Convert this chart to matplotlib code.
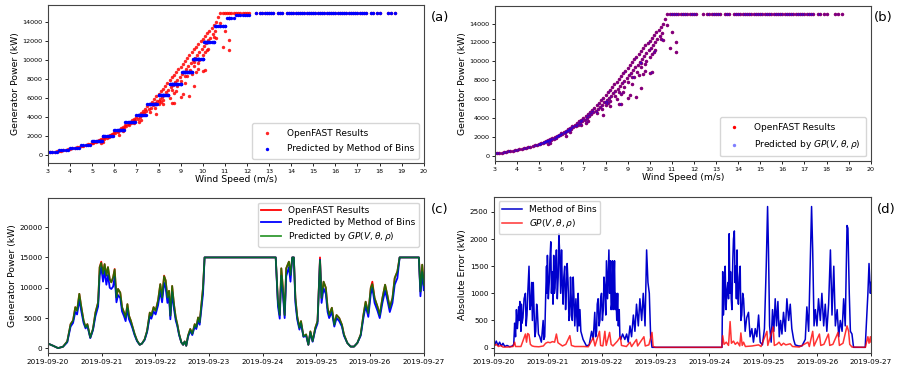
import numpy as np
import pandas as pd
import matplotlib
matplotlib.use("Agg")
import matplotlib.pyplot as plt
import matplotlib.dates as mdates

# ---- scatter data (wind speed m/s, OpenFAST power kW) ----
wind_main = [3.0, 3.1, 3.2, 3.3, 3.4, 3.5, 3.6, 3.7, 3.8, 3.9, 4.0, 4.1, 4.2, 4.3, 4.4, 4.5, 4.6, 4.7,
             4.8, 4.9, 5.0, 5.1, 5.2, 5.3, 5.4, 5.5, 5.6, 5.7, 5.8, 5.9, 6.0, 6.1, 6.2, 6.3, 6.4, 6.5,
             6.6, 6.7, 6.8, 6.9, 7.0, 7.1, 7.2, 7.3, 7.4, 7.5, 7.6, 7.7, 7.8, 7.9, 8.0, 8.1, 8.2, 8.3,
             8.4, 8.5, 8.6, 8.7, 8.8, 8.9, 9.0, 9.1, 9.2, 9.3, 9.4, 9.5, 9.6, 9.7, 9.8, 9.9, 10.0,
             10.1, 10.2, 10.3, 10.4, 10.5, 10.6, 10.7]
power_main = [250, 270, 300, 330, 370, 400, 440, 480, 530, 570, 620, 670, 720, 780, 840, 900, 960, 1030,
              1100, 1170, 1250, 1340, 1430, 1530, 1630, 1740, 1850, 1970, 2090, 2220, 2350, 2490, 2640,
              2790, 2950, 3110, 3280, 3450, 3630, 3820, 4010, 4210, 4420, 4630, 4850, 5100, 5350, 5600,
              5850, 6150, 6450, 6700, 6950, 7250, 7550, 7850, 8150, 8450, 8750, 9000, 9300, 9600, 9900,
              10200, 10500, 10800, 11100, 11400, 11700, 11950, 12200, 12500, 12800, 13100, 13350, 13650,
              14000, 14500]
wind_band = [5.05, 5.15, 5.25, 5.35, 5.45, 5.55, 5.65, 5.75, 5.85, 5.95, 6.05, 6.15, 6.25, 6.35, 6.45,
             6.55, 6.65, 6.75, 6.85, 6.95, 7.05, 7.15, 7.25, 7.35, 7.45, 7.55, 7.65, 7.75, 7.85, 7.95,
             8.05, 8.15, 8.25, 8.35, 8.45, 8.55, 8.65, 8.75, 8.85, 8.95, 9.05, 9.15, 9.25, 9.35, 9.45,
             9.55, 9.65, 9.75, 9.85, 9.95, 10.05, 10.15, 10.25, 10.35, 10.45, 10.55,
             7.62, 7.82, 8.02, 8.22, 8.42, 8.62, 8.82, 9.02, 9.22, 9.42, 9.62, 9.82, 10.02, 10.22]
power_band = [1230, 1320, 1410, 1500, 1600, 1700, 1800, 1920, 2040, 2170, 2300, 2420, 2560, 2700, 2850,
              3000, 3150, 3300, 3480, 3650, 3820, 4000, 4200, 4380, 4580, 4780, 4980, 5200, 5420, 5650,
              5880, 6100, 6350, 6600, 6850, 7100, 7350, 7650, 7900, 8200, 8500, 8750, 9050, 9350, 9650,
              9950, 10250, 10550, 10850, 11150, 11450, 11750, 12050, 12350, 12700, 13050,
              4500, 4950, 5400, 5800, 6300, 6800, 7300, 7800, 8300, 8900, 9400, 10000, 10500, 11200]
wind_out = [5.4, 5.5, 6.2, 6.4, 6.9, 7.1, 7.2, 7.9, 8.0, 8.1, 8.2, 8.5, 8.6, 8.7, 8.7, 8.8, 9.0, 9.1,
            9.2, 9.4, 9.6, 9.3, 9.5, 9.7, 9.8, 10.1, 10.0, 9.6, 9.8, 10.1, 10.2, 10.5, 10.6, 10.9, 11.0,
            11.2, 11.2, 10.8]
power_out = [1200, 1300, 2100, 2500, 3300, 3500, 3700, 4300, 5700, 5600, 5300, 6000, 5500, 5500, 6500,
             6700, 6100, 6400, 7600, 6200, 7200, 8300, 8500, 8700, 9000, 8900, 8800, 9800, 9700, 10800,
             11000, 12400, 12300, 11400, 13100, 11000, 12100, 13900]
wind_rated = [10.8, 10.9, 11.0, 11.1, 11.2, 11.3, 11.4, 11.5, 11.6, 11.7, 11.8, 11.9, 12.0, 12.1,
              12.4, 12.6, 12.7, 12.8, 12.9, 13.0, 13.1, 13.2, 13.4, 13.5, 13.6, 13.8, 13.9, 14.0, 14.1,
              14.2, 14.3, 14.4, 14.5, 14.6, 14.7, 14.8, 14.9, 15.0, 15.1, 15.2, 15.3, 15.4, 15.5, 15.6,
              15.7, 15.8, 15.9, 16.0, 16.1, 16.2, 16.3, 16.4, 16.5, 16.6, 16.7, 16.8, 16.9, 17.0, 17.1,
              17.2, 17.3, 17.4, 17.6, 17.7, 17.9, 18.0, 18.4, 18.5, 18.7]
power_rated = [15000] * len(wind_rated)

# method of bins table (bin edges m/s, mean power kW)
bin_edges = [3.0, 3.5, 4.0, 4.5, 5.0, 5.5, 6.0, 6.5, 7.0, 7.5, 8.0, 8.5, 9.03, 9.53, 10.03, 10.53,
             11.08, 11.5, 12.2, 19.0]
bin_power = [280, 480, 730, 1000, 1400, 2000, 2600, 3400, 4200, 5350, 6250, 7450, 8700, 10050, 11850,
             13600, 14450, 14750, 15000]

# ---- time series (hours after 2019-09-20 00:00) ----
c_hours = [0, 2.2, 4.5, 6.7, 8.6, 10.1, 11.2, 12.2, 13, 14, 14.9, 15.9, 16.8, 17.6, 18.9, 20.1, 21.2,
           22.4, 23.1, 23.8, 24.6, 25.3, 26.1, 26.8, 27.6, 28.3, 29.1, 29.8, 30.6, 31.3, 32.3, 33.1, 34,
           34.7, 35.5, 36.2, 37, 37.7, 38.7, 39.8, 41, 42, 43.2, 44.3, 45.5, 46.2, 47.2, 48.1, 49.2,
           50.2, 51, 51.9, 52.6, 53.4, 54.1, 54.7, 55.5, 56.3, 57.1, 57.8, 58.6, 59.6, 60.4, 61.1, 61.8,
           62.6, 63.6, 64.5, 65.6, 66.3, 67.1, 67.8, 68.6, 69.3, 70, 101.8, 102.8, 103.6, 104.3, 105,
           105.8, 106.5, 107.7, 108.4, 109.2, 109.9, 110.6, 111.4, 112.4, 113.1, 114.2, 115.4, 116.4,
           117.3, 118.3, 119.5, 120.5, 121.6, 122.3, 123.2, 124.2, 125, 125.7, 126.9, 128, 129, 130.2,
           131.4, 132.3, 133.8, 135.3, 136.8, 138.3, 139.8, 141, 142, 143.2, 144.3, 145, 146, 147.3,
           148.3, 149.5, 150.7, 151.7, 152.8, 154, 155, 156.2, 157.2, 165.8, 166.5, 167.3, 168]
c_openfast = [800, 450, 50, 280, 1150, 4000, 4600, 6800, 6200, 9000, 6800, 4600, 3500, 4000, 1800, 3200,
              5900, 7600, 13400, 14300, 12300, 13900, 12000, 13400, 11400, 10900, 11700, 13100, 8400, 9800,
              9200, 6800, 5900, 5100, 7300, 5400, 4600, 3700, 2400, 1300, 600, 800, 1500, 2900, 5900, 5400,
              6800, 6200, 7900, 10600, 8400, 12000, 11200, 8400, 9500, 5400, 10300, 7300, 5100, 4000, 2400,
              1000, 600, 1150, 440, 2100, 3200, 2400, 4000, 3500, 5100, 4300, 7300, 10000, 15000, 15000,
              7700, 5500, 13200, 10000, 5500, 13200, 14300, 12100, 15000, 15000, 8300, 5300, 3400, 4500,
              2000, 2300, 600, 2800, 1200, 3400, 4500, 15000, 8300, 11000, 10000, 6700, 5500, 6700, 3900,
              5500, 5000, 3900, 2300, 900, 300, 300, 900, 2300, 5500, 7700, 5800, 10000, 11000, 8300, 6900,
              5500, 8300, 10500, 8800, 6700, 8300, 11600, 12700, 15000, 15000, 9400, 13800, 10500]
c_bins = [800, 450, 50, 280, 1000, 3600, 4200, 6000, 5600, 8000, 6100, 4200, 3300, 3700, 1700, 3000,
          5300, 6900, 12000, 13400, 11000, 12800, 10500, 12100, 10000, 9800, 10200, 11800, 7600, 8800,
          8300, 6100, 5300, 4500, 6600, 4800, 4100, 3400, 2200, 1200, 600, 800, 1400, 2700, 5300, 4900,
          6100, 5600, 7100, 9500, 7600, 10800, 10000, 7500, 8500, 4800, 9300, 6600, 4600, 3700, 2200,
          1000, 600, 1100, 440, 1900, 2900, 2200, 3600, 3200, 4600, 3900, 6600, 9000, 15000, 15000,
          7000, 4900, 12000, 9000, 5000, 11900, 13400, 11000, 15000, 15000, 7500, 4800, 3100, 4100,
          1900, 2100, 600, 2600, 1100, 3100, 4100, 14600, 7500, 9900, 9000, 6000, 5000, 6000, 3600,
          5000, 4500, 3600, 2100, 900, 300, 300, 900, 2100, 5000, 7000, 5200, 9000, 10000, 7500, 6200,
          5000, 7500, 9500, 8000, 6000, 7500, 10500, 11600, 15000, 15000, 8600, 12600, 9600]
c_gp = [800, 450, 50, 280, 1150, 4000, 4600, 6800, 6200, 9000, 6800, 4600, 3500, 4000, 1800, 3200,
        5900, 7600, 13400, 14100, 12300, 13900, 12000, 13400, 11400, 10900, 11700, 13000, 8400, 9800,
        9200, 6800, 5900, 5100, 7300, 5400, 4600, 3700, 2400, 1300, 600, 800, 1500, 2900, 5900, 5400,
        6800, 6200, 7900, 10600, 8400, 11900, 11200, 8400, 9500, 5400, 10300, 7300, 5100, 4000, 2400,
        1000, 600, 1150, 440, 2100, 3200, 2400, 4000, 3500, 5100, 4300, 7300, 10000, 15000, 15000,
        7700, 5500, 13200, 10000, 5500, 13200, 14300, 12100, 15000, 15000, 8300, 5300, 3400, 4500,
        2000, 2300, 600, 2800, 1200, 3400, 4500, 14500, 8300, 11000, 10000, 6700, 5500, 6700, 3900,
        5500, 5000, 3900, 2300, 900, 300, 300, 900, 2300, 5500, 7700, 5800, 10000, 10600, 8300, 6900,
        5500, 8300, 10500, 8800, 6700, 8300, 11600, 12700, 15000, 15000, 9400, 13800, 10500]

# absolute error of method of bins: (hour, kW)
d_bins_pts = [
    (0.3, 50), (1.0, 120), (1.8, 40), (2.5, 100), (3.3, 30), (4.0, 80), (4.8, 20), (5.8, 40), (7.0, 15),
    (8.2, 30), (8.8, 60), (9.2, 450), (9.6, 200), (10.0, 700), (10.4, 350), (10.7, 500), (11.0, 750),
    (11.2, 500), (11.5, 850), (11.8, 600), (12.0, 300), (12.2, 800), (12.5, 450), (12.9, 550),
    (13.4, 900), (14.0, 1000), (14.3, 400), (14.7, 600), (15.1, 1050), (15.6, 1500), (16.0, 700),
    (16.4, 800), (16.8, 1200), (17.1, 500), (17.5, 1200), (17.9, 600), (18.2, 200), (18.6, 300),
    (19.0, 800), (19.3, 700), (19.8, 250), (20.4, 200), (21.1, 100), (21.9, 500), (22.2, 150),
    (22.6, 200), (23.0, 900), (23.4, 1500), (23.6, 1000), (23.8, 1700), (24.2, 900), (24.6, 1200),
    (24.9, 1600), (25.3, 1950), (25.6, 1000), (26.0, 1400), (26.3, 800), (26.6, 1700), (26.9, 1000),
    (27.2, 1100), (27.5, 1500), (27.8, 1800), (28.2, 900), (28.6, 1300), (28.9, 2100), (29.3, 1700),
    (29.7, 1000), (30.1, 1800), (30.4, 1200), (30.8, 800), (31.1, 1300), (31.5, 1500), (31.9, 700),
    (32.3, 1100), (32.6, 1550), (33.0, 1200), (33.4, 500), (33.8, 600), (34.1, 1300), (34.5, 800),
    (34.9, 500), (35.3, 1300), (35.6, 950), (36.0, 400), (36.5, 900), (37.2, 300), (37.5, 1000),
    (37.9, 400), (38.3, 700), (38.7, 300), (39.7, 150), (41.2, 30), (42.4, 50), (43.5, 300),
    (44.2, 150), (44.9, 650), (45.3, 200), (45.7, 300), (46.0, 800), (46.4, 900), (46.8, 400),
    (47.2, 500), (47.5, 900), (47.9, 1000), (48.3, 500), (48.7, 700), (49.0, 1300), (49.4, 1100),
    (49.8, 600), (50.1, 1600), (50.6, 900), (51.2, 1800), (51.5, 1000), (51.9, 1600), (52.2, 700),
    (52.5, 800), (52.8, 1600), (53.1, 700), (53.4, 1200), (53.7, 1600), (54.0, 700), (54.3, 1000),
    (54.7, 500), (55.1, 1000), (55.4, 400), (55.8, 700), (56.1, 200), (56.5, 150), (57.3, 250),
    (58.3, 150), (59.1, 250), (59.8, 100), (60.6, 400), (61.3, 200), (62.1, 600), (62.8, 300),
    (63.5, 800), (64.3, 400), (65.0, 900), (65.8, 500), (66.5, 1000), (67.3, 400), (68.0, 1800),
    (68.6, 1200), (69.2, 1000), (69.8, 200), (70.4, 5), (101.6, 5),
    (101.9, 1400), (102.2, 600), (102.5, 800), (102.8, 1300), (103.0, 1500), (103.4, 700),
    (103.7, 1000), (104.2, 1200), (104.5, 900), (104.8, 2100), (105.1, 1000), (105.4, 1400),
    (105.7, 900), (106.0, 700), (106.4, 1600), (106.7, 2000), (107.1, 2150), (107.4, 1200),
    (107.7, 1500), (108.0, 900), (108.3, 1800), (108.6, 1000), (108.9, 800), (109.3, 1300),
    (109.7, 1500), (110.0, 500), (110.4, 600), (110.8, 1000), (111.2, 900), (111.9, 300),
    (112.6, 550), (113.4, 650), (114.1, 200), (114.9, 350), (115.6, 100), (116.4, 350), (117.1, 200),
    (117.9, 600), (118.6, 100), (119.6, 50), (120.5, 350), (121.3, 1500), (121.9, 2600), (122.3, 1800),
    (122.8, 400), (123.5, 100), (124.1, 700), (124.7, 300), (125.3, 900), (125.9, 400), (126.5, 850),
    (127.1, 200), (127.7, 500), (128.3, 250), (129.0, 650), (129.8, 300), (130.5, 900), (131.3, 500),
    (132.0, 800), (132.7, 350), (133.5, 150), (134.2, 50), (135.7, 30), (137.2, 30), (138.7, 150),
    (139.4, 750), (140.2, 300), (140.9, 1500), (141.5, 2600), (142.0, 1800), (142.6, 400),
    (143.2, 700), (143.9, 400), (144.6, 900), (145.4, 500), (146.1, 1000), (146.9, 400), (147.6, 800),
    (148.3, 300), (149.1, 800), (149.9, 1800), (150.6, 600), (151.4, 1500), (152.1, 400), (152.9, 700),
    (153.6, 200), (154.3, 500), (155.1, 300), (155.8, 900), (156.5, 400), (157.3, 2250), (157.7, 2200),
    (158.3, 1000), (158.8, 300), (159.5, 250), (160.2, 5), (165.4, 5), (166.0, 500), (166.6, 1000),
    (167.1, 1550), (167.7, 1000), (168.0, 1200),
]
d_gp_hours = [0, 1, 2, 3, 4, 6, 8.5, 9.2, 9.6, 12, 14, 14.5, 15, 15.6, 16.2, 17, 18, 20, 22, 23, 24,
              25, 26, 27, 27.8, 28.5, 29.5, 30.5, 32, 33.8, 34.5, 36, 38, 40, 42, 44.2, 45, 47, 47.5,
              48.5, 49.4, 50, 51.5, 52.2, 53, 55, 56.3, 56.8, 59, 60.6, 61.3, 63.5, 64, 66.8, 67.4, 69,
              70.4, 70.9, 72, 101.5, 101.9, 102.5, 103.5, 104.5, 105.2, 105.8, 106.7, 107.5, 108.5,
              109.5, 110, 110.6, 111.2, 112, 115, 117.9, 119, 121.6, 122, 124.4, 124.9, 126, 127, 128,
              129, 130, 132, 133, 136, 139.9, 140.5, 142, 142.6, 145, 145.6, 147, 149, 149.6, 151,
              153.3, 153.9, 155.5, 157.3, 158, 158.5, 159.5, 165.5, 166, 166.6, 167.1, 167.7, 168]
d_gp_err = [30, 60, 20, 40, 10, 10, 20, 100, 20, 20, 250, 100, 260, 240, 60, 30, 20, 15, 30, 80, 100,
            90, 110, 100, 250, 90, 60, 30, 60, 220, 40, 20, 20, 20, 15, 180, 30, 300, 40,
            30, 300, 40, 280, 60, 30, 120, 200, 40, 20, 100, 20, 150, 30, 200, 30, 50,
            280, 20, 5, 5, 220, 60, 100, 40, 480, 80, 120, 60, 100,
            30, 270, 40, 100, 20, 30, 50, 20, 300, 40, 380, 40, 60, 100, 40,
            80, 50, 70, 20, 10, 100, 20, 300, 30, 250, 40, 60, 250, 40, 60,
            280, 40, 80, 400, 300, 60, 10, 5, 100, 200, 80, 200, 100]

TICK_AB = 4.6
TICK_CD = 5.2
LAB = 6.7
LEG = 6.5

fig = plt.figure(figsize=(8.99, 3.74), dpi=100)
ax_a = fig.add_axes([0.0534, 0.564, 0.418, 0.4226])
ax_b = fig.add_axes([0.5506, 0.5695, 0.418, 0.4145])
ax_c = fig.add_axes([0.0534, 0.0561, 0.418, 0.4145])
ax_d = fig.add_axes([0.5495, 0.0561, 0.4194, 0.4172])

wind_all = np.array(wind_main + wind_band + wind_out + wind_rated)
power_all = np.array(power_main + power_band + power_out + power_rated)
idx = np.clip(np.digitize(wind_all, bin_edges) - 1, 0, len(bin_power) - 1)
power_bins = np.array(bin_power)[idx]

# (a)
ax_a.scatter(wind_all, power_all, s=6, c="r", lw=0, alpha=0.85, label="OpenFAST Results")
ax_a.scatter(wind_all, power_bins, s=6, c="b", lw=0, label="Predicted by Method of Bins")
ax_a.set_ylim(-880, 15790)
# (b)
ax_b.scatter(wind_all, power_all, s=6, c="r", lw=0, label="OpenFAST Results")
ax_b.scatter(wind_all, power_all, s=6, c="b", lw=0, alpha=0.5,
             label=r"Predicted by $GP(V,\theta,\rho)$")
ax_b.set_ylim(-570, 15870)

for ax in (ax_a, ax_b):
    ax.set_xlim(3, 20)
    ax.set_xticks(range(3, 21))
    ax.set_yticks(range(0, 15000, 2000))
    ax.set_xlabel("Wind Speed (m/s)", fontsize=LAB, labelpad=1)
    ax.set_ylabel("Generator Power (kW)", fontsize=LAB, labelpad=2)
    ax.tick_params(labelsize=TICK_AB)
    ax.legend(loc="lower right", fontsize=LEG, markerscale=1.0, borderpad=0.6,
              labelspacing=0.7, handletextpad=1.2)

# (c)
t0 = pd.Timestamp("2019-09-20")
tc = t0 + pd.to_timedelta(c_hours, unit="h")
ax_c.plot(tc, c_openfast, color="r", lw=1.3, label="OpenFAST Results")
ax_c.plot(tc, c_bins, color="b", lw=1.3, label="Predicted by Method of Bins")
ax_c.plot(tc, c_gp, color="g", lw=1.3, alpha=0.8, label=r"Predicted by $GP(V,\theta,\rho)$")
ax_c.set_ylim(-760, 24800)
ax_c.set_yticks(range(0, 20001, 5000))
ax_c.set_ylabel("Generator Power (kW)", fontsize=LAB, labelpad=2)
ax_c.legend(loc="upper right", fontsize=LEG, handlelength=2.2, borderpad=0.4, labelspacing=0.35)

# (d)
d_bins_hours = [p[0] for p in d_bins_pts]
d_bins_err = [p[1] for p in d_bins_pts]
td_b = t0 + pd.to_timedelta(d_bins_hours, unit="h")
td_g = t0 + pd.to_timedelta(d_gp_hours, unit="h")
ax_d.plot(td_b, d_bins_err, color="#0000cc", lw=1.1, label="Method of Bins")
ax_d.plot(td_g, d_gp_err, color="r", lw=1.1, alpha=0.8, label=r"$GP(V,\theta,\rho)$")
ax_d.set_ylim(-100, 2776)
ax_d.set_yticks(range(0, 2501, 500))
ax_d.set_ylabel("Absolute Error (kW)", fontsize=LAB, labelpad=2)
ax_d.legend(loc="upper left", fontsize=LEG, handlelength=2.2, borderpad=0.4, labelspacing=0.35)

for ax in (ax_c, ax_d):
    ax.set_xlim(pd.Timestamp("2019-09-20"), pd.Timestamp("2019-09-27"))
    ax.xaxis.set_major_locator(mdates.DayLocator())
    ax.xaxis.set_major_formatter(mdates.DateFormatter("%Y-%m-%d"))
    ax.tick_params(labelsize=TICK_CD)

for ax in (ax_a, ax_b, ax_c, ax_d):
    ax.tick_params(length=2.5, width=0.6, pad=1.5)
    for sp in ax.spines.values():
        sp.set_linewidth(0.8)
        sp.set_color("#444444")

fig.text(440 / 899, 1 - 17 / 374, "(a)", fontsize=9.5, ha="center", va="center")
fig.text(883 / 899, 1 - 17 / 374, "(b)", fontsize=9.5, ha="center", va="center")
fig.text(440 / 899, 1 - 210 / 374, "(c)", fontsize=9.5, ha="center", va="center")
fig.text(886 / 899, 1 - 210 / 374, "(d)", fontsize=9.5, ha="center", va="center")

fig.savefig("out.png", dpi=100)
